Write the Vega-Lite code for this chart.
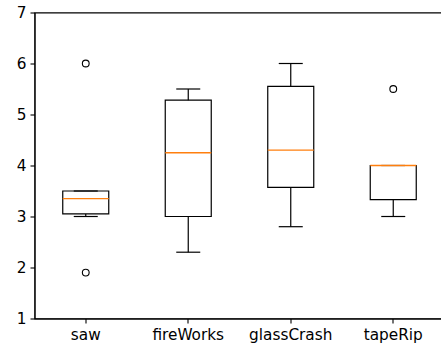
{
  "$schema": "https://vega.github.io/schema/vega-lite/v6.json",
  "autosize": "none",
  "width": 407,
  "height": 306,
  "padding": {"left": 34.5, "top": 12.5, "right": 0, "bottom": 26.5},
  "background": "white",
  "config": {
    "view": {"stroke": "black", "strokeWidth": 1.1},
    "font": "DejaVu Sans",
    "axis": {
      "domainColor": "black", "domainWidth": 1.1, "tickColor": "black", "tickWidth": 1.1,
      "tickSize": 4.5, "labelColor": "black", "labelFontSize": 15.3, "labelPadding": 4,
      "grid": false, "title": null, "labelFont": "DejaVu Sans"
    }
  },
  "datasets": {
    "boxes": [
      {"cat": "saw", "lo": 3.0, "q1": 3.05, "med": 3.35, "q3": 3.5, "hi": 3.5},
      {"cat": "fireWorks", "lo": 2.3, "q1": 3.0, "med": 4.25, "q3": 5.28, "hi": 5.5},
      {"cat": "glassCrash", "lo": 2.8, "q1": 3.57, "med": 4.3, "q3": 5.55, "hi": 6.0},
      {"cat": "tapeRip", "lo": 3.0, "q1": 3.33, "med": 4.0, "q3": 4.0, "hi": 4.0}
    ],
    "outliers": [
      {"cat": "saw", "value": 6.0},
      {"cat": "saw", "value": 1.9},
      {"cat": "tapeRip", "value": 5.5}
    ]
  },
  "encoding": {
    "x": {
      "field": "cat", "type": "nominal",
      "sort": ["saw", "fireWorks", "glassCrash", "tapeRip"],
      "scale": {"type": "band", "range": [0, 410], "paddingInner": 0, "paddingOuter": 0},
      "axis": {"labelAngle": 0}
    }
  },
  "layer": [
    {
      "data": {"name": "boxes"},
      "mark": {"type": "rule", "color": "black", "strokeWidth": 1.2},
      "encoding": {
        "y": {"field": "lo", "type": "quantitative", "scale": {"domain": [1, 7], "nice": false, "zero": false},
              "axis": {"values": [1, 2, 3, 4, 5, 6, 7], "format": "d", "labelPadding": 4}},
        "y2": {"field": "q1"}
      }
    },
    {
      "data": {"name": "boxes"},
      "mark": {"type": "rule", "color": "black", "strokeWidth": 1.2},
      "encoding": {
        "y": {"field": "q3", "type": "quantitative"},
        "y2": {"field": "hi"}
      }
    },
    {
      "data": {"name": "boxes"},
      "mark": {"type": "tick", "color": "black", "size": 24, "thickness": 1.2, "orient": "horizontal", "opacity": 1},
      "encoding": {"y": {"field": "lo", "type": "quantitative"}}
    },
    {
      "data": {"name": "boxes"},
      "mark": {"type": "tick", "color": "black", "size": 24, "thickness": 1.2, "orient": "horizontal", "opacity": 1},
      "encoding": {"y": {"field": "hi", "type": "quantitative"}}
    },
    {
      "data": {"name": "boxes"},
      "mark": {"type": "bar", "width": 46, "fill": "white", "fillOpacity": 0, "stroke": "black", "strokeWidth": 1.2},
      "encoding": {
        "y": {"field": "q1", "type": "quantitative"},
        "y2": {"field": "q3"}
      }
    },
    {
      "data": {"name": "boxes"},
      "mark": {"type": "tick", "color": "#ff7f0e", "size": 46, "thickness": 1.3, "orient": "horizontal", "opacity": 1},
      "encoding": {"y": {"field": "med", "type": "quantitative"}}
    },
    {
      "data": {"name": "outliers"},
      "mark": {"type": "point", "shape": "circle", "filled": false, "stroke": "black", "strokeWidth": 1.1, "size": 46, "opacity": 1},
      "encoding": {"y": {"field": "value", "type": "quantitative"}}
    }
  ]
}
